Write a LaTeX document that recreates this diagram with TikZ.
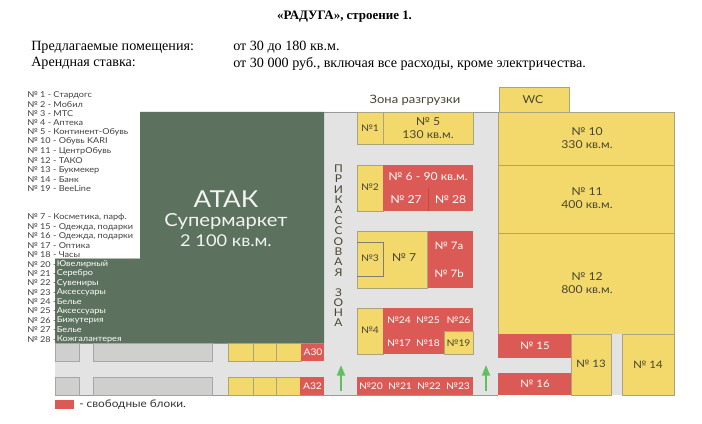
\documentclass[tikz,border=0pt]{standalone}
\usepackage{fontspec}
\setmainfont{Liberation Serif}
\newfontfamily\plan[FakeStretch=1.12]{Lato}
\definecolor{floorc}{HTML}{E3E3E3}
\definecolor{atakc}{HTML}{5C725F}
\definecolor{yel}{HTML}{F3D96B}
\definecolor{redc}{HTML}{DC5A55}
\definecolor{greyb}{HTML}{CFCFCD}
\definecolor{edgec}{HTML}{A8A47E}
\definecolor{txt}{HTML}{4A4530}
\definecolor{arrowc}{HTML}{5FC05F}
\usetikzlibrary{arrows.meta}
\tikzset{
  x=0.75pt,y=-0.75pt,
  yblock/.style={fill=yel,draw=edgec,line width=0.5pt},
  rblock/.style={fill=redc,draw=none},
  gblock/.style={fill=greyb,draw=gray!70,line width=0.5pt},
  lab/.style={font=\plan\fontsize{8.2}{9.8}\selectfont,text=txt,align=center,inner sep=0pt},
  wlab/.style={font=\plan\fontsize{8.2}{9.8}\selectfont,text=white,align=center,inner sep=0pt},
  mlab/.style={font=\plan\fontsize{7.7}{9}\selectfont,text=txt,align=center,inner sep=0pt},
  mwlab/.style={font=\plan\fontsize{7.7}{9}\selectfont,text=white,align=center,inner sep=0pt},
  slab/.style={font=\plan\fontsize{6.9}{8}\selectfont,text=txt,align=center,inner sep=0pt},
  swlab/.style={font=\plan\fontsize{6.9}{8}\selectfont,text=white,align=center,inner sep=0pt},
  listc/.style={font=\plan\fontsize{6.1}{7}\selectfont,text=black!75,anchor=west,inner sep=0pt},
  listw/.style={font=\plan\fontsize{6.1}{7}\selectfont,text=white,anchor=west,inner sep=0pt},
  head/.style={font=\fontsize{10.6}{12}\selectfont,anchor=west,inner sep=0pt,text=black},
  go/.style={draw=arrowc,line width=1.4pt,-{Triangle[width=6pt,length=8pt]}}
}
\newcommand{\bx}[5]{\path[#1] (#2,#3) rectangle (#4,#5);}
\begin{document}
\begin{tikzpicture}
\useasboundingbox (0,0) rectangle (702,424);
\fill[white] (0,0) rectangle (702,424);
% headings
\node[font=\bfseries\fontsize{9.7}{11}\selectfont,inner sep=0pt] (title) at (344.5,17) {«РАДУГА», строение 1.};
\node[head] (h1) at (31,47.5) {Предлагаемые помещения:};
\node[head] (h2) at (233,47.5) {от 30 до 180 кв.м.};
\node[head] (h3) at (31,63.5) {Арендная ставка:};
\node[head] (h4) at (233,63.5) {от 30 000 руб., включая все расходы, кроме электричества.};
% floor
\fill[floorc] (55,258) -- (140,258) -- (140,112) -- (498,112) -- (498,395) -- (55,395) -- cycle;
\draw[gray!80,line width=0.5pt] (324,112) -- (498,112);
\draw[gray!80,line width=0.5pt] (55,395) -- (498,395);
% atak
\fill[atakc] (140,112) -- (324,112) -- (324,343.5) -- (55,343.5) -- (55,258.5) -- (140,258.5) -- cycle;
% grey shops
\bx{gblock}{55}{343.5}{79.5}{361}
\bx{gblock}{93.5}{343.5}{212.5}{361}
\bx{gblock}{55}{377}{79.5}{395}
\bx{gblock}{93.5}{377}{212.5}{395}
% small yellow rows
\bx{yblock}{228.5}{343.5}{253}{361}
\bx{yblock}{253}{343.5}{276.5}{361}
\bx{yblock}{276.5}{343.5}{301}{361}
\bx{rblock}{301}{343.5}{324}{361}
\bx{yblock}{228.5}{377}{253}{395}
\bx{yblock}{253}{377}{276.5}{395}
\bx{yblock}{276.5}{377}{300}{395}
\bx{rblock}{300}{377}{324}{395}
\node[swlab] (a30) at (313,352.5) {А30};
\node[swlab] (a32) at (312.5,386.5) {А32};
% centre blocks
\bx{yblock}{357}{112}{383}{144}
\bx{yblock}{383}{112}{473}{144}
\node[slab] (n1) at (370,128) {№1};
\node[lab] (n5) at (428,128) {№ 5\\130 кв.м.};
\bx{yblock}{357}{165}{383}{211}
\bx{rblock}{383}{165}{473}{211}
\draw[redc!85!black,line width=0.4pt] (428,188) -- (428,211);
\node[slab] (n2) at (370,187.5) {№2};
\node[wlab] (n6) at (428,177) {№ 6 - 90 кв.м.};
\node[wlab] (n27) at (406,200) {№ 27};
\node[wlab] (n28) at (450.5,200) {№ 28};
\bx{yblock}{357}{231}{427.5}{288}
\bx{rblock}{427.5}{231}{473}{288}
\path[draw=txt!70,line width=0.4pt] (357,242) -- (383,242) -- (383,276) -- (357,276);
\node[slab] (n3) at (370,258) {№3};
\node[lab] (n7) at (404,258) {№ 7};
\node[mwlab] (n7a) at (449,246) {№ 7а};
\node[mwlab] (n7b) at (449,273.5) {№ 7b};
\bx{yblock}{357}{308}{383}{354}
\bx{rblock}{383}{308}{473}{354}
\bx{yblock}{444}{331}{473}{354}
\node[slab] (n4) at (370,330) {№4};
\node[swlab] (n24) at (399,320.5) {№24};
\node[swlab] (n25) at (428,320.5) {№25};
\node[swlab] (n26) at (458.5,320.5) {№26};
\node[swlab] (n17) at (399,343) {№17};
\node[swlab] (n18) at (428,343) {№18};
\node[slab] (n19) at (458.5,343) {№19};
\bx{rblock}{357}{377}{473}{395}
\node[swlab] (n20) at (371,386.5) {№20};
\node[swlab] (n21) at (400,386.5) {№21};
\node[swlab] (n22) at (429,386.5) {№22};
\node[swlab] (n23) at (458,386.5) {№23};
% zone labels
\node[font=\plan\fontsize{8.7}{10}\selectfont,text=txt,inner sep=0pt] (zr) at (415,100) {Зона разгрузки};
\foreach \c [count=\i from 0] in {П,Р,И,К,А,С,С,О,В,А,Я}
  \node[font=\plan\fontsize{8}{9}\selectfont,text=txt,inner sep=0pt] (p\i) at (338.5,168.5+10.4*\i) {\c};
\foreach \c [count=\i from 0] in {З,О,Н,А}
  \node[font=\plan\fontsize{8}{9}\selectfont,text=txt,inner sep=0pt] (z\i) at (338.5,292.5+10.2*\i) {\c};
% arrows
\coordinate (a1s) at (341,391); \coordinate (a1e) at (341,365);
\coordinate (a2s) at (486,391); \coordinate (a2e) at (486,365);
\draw[go] (a1s) -- (a1e);
\draw[go] (a2s) -- (a2e);
% right wing
\bx{yblock}{499}{87}{569}{112}
\node[lab] (wc) at (533,100) {WC};
\bx{yblock}{498}{112}{674}{165}
\bx{yblock}{498}{165}{674}{233}
\bx{yblock}{498}{233}{674}{334}
\bx{rblock}{498}{334}{571}{358}
\bx{rblock}{498}{373}{571}{395}
\fill[floorc] (498,358) rectangle (571,373);
\fill[floorc] (611,334.3) rectangle (622,395);
\bx{yblock}{571}{334}{611}{395}
\bx{yblock}{622}{334}{674}{395}
\node[lab] (n10) at (587,138) {№ 10\\330 кв.м.};
\node[lab] (n11) at (587,198) {№ 11\\400 кв.м.};
\node[lab] (n12) at (587,283) {№ 12\\800 кв.м.};
\node[mwlab] (n15) at (535,345.5) {№ 15};
\node[mwlab] (n16) at (535,384) {№ 16};
\node[mlab] (n13) at (591,364) {№ 13};
\node[mlab] (n14) at (648,364.5) {№ 14};
% atak label
\node[font=\plan\fontsize{17.5}{20}\selectfont,text=white!92!atakc,inner sep=0pt] (atak) at (226,199) {АТАК};
\node[font=\plan\fontsize{13.5}{15}\selectfont,text=white!92!atakc,inner sep=0pt] (sm) at (226,221.5) {Супермаркет};
\node[font=\plan\fontsize{12.2}{14}\selectfont,text=white!92!atakc,inner sep=0pt] (sq) at (226,240.5) {2 100 кв.м.};
% lists
\foreach \t [count=\i from 0] in {№ 1 - Стардогс,№ 2 - Мобил,№ 3 - МТС,№ 4 - Аптека,№ 5 - Континент-Обувь,№ 10 - Обувь KARI,№ 11 - ЦентрОбувь,№ 12 - ТАКО,№ 13 - Букмекер,№ 14 - Банк,№ 19 - BeeLine}
  \node[listc] (la\i) at (27,95+9.35*\i) {\t};
\foreach \t [count=\i from 0] in {№ 7 - Косметика{,} парф.,№ 15 - Одежда{,} подарки,№ 16 - Одежда{,} подарки,№ 17 - Оптика,№ 18 - Часы}
  \node[listc] (lb\i) at (27,217.5+9.35*\i) {\t};
\foreach \n/\t [count=\i from 0] in {20/Ювелирный,21/Серебро,22/Сувениры,23/Аксессуары,24/Белье,25/Аксессуары,26/Бижутерия,27/Белье,28/Кожгалантерея}
{
  \node[listc] (lc\i) at (27,264.3+9.35*\i) {№ \n\ -};
  \node[listw] (ld\i) at (56.5,264.3+9.35*\i) {\t};
}
% legend
\bx{rblock}{55}{399.5}{73.5}{409}
\node[font=\plan\fontsize{7.9}{9}\selectfont,text=black!80,anchor=west,inner sep=0pt] (leg) at (79,404.5) {- свободные блоки.};
\end{tikzpicture}
\end{document}
